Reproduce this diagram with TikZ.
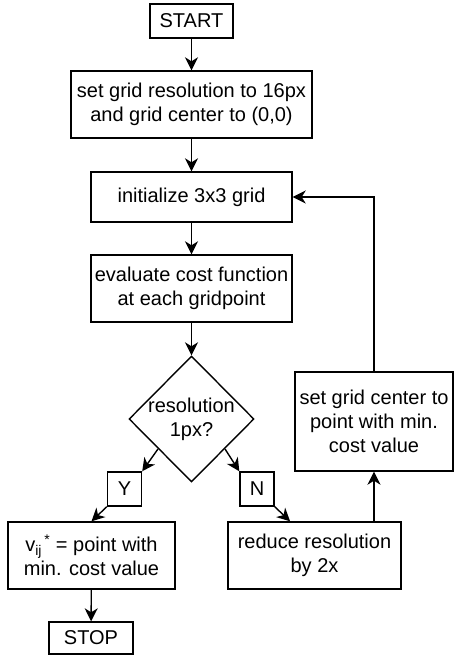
\documentclass[tikz,border=0pt]{standalone}
\usepackage{fontspec}
\setmainfont{Liberation Sans}
\usetikzlibrary{arrows.meta,shapes.geometric,calc}
\begin{document}
\begin{tikzpicture}[x=1pt,y=-1pt,
  proc/.style={draw=black, line width=1.4pt, inner sep=0pt, align=center,
    font=\fontsize{20}{24}\selectfont},
  arr/.style={-{Stealth[length=13pt,width=13pt,inset=4pt]}, line width=1.4pt}]
\useasboundingbox (0,0) rectangle (454,655);

\node[proc, minimum width=83pt, minimum height=34pt] (start) at (191.5,21) {START};
\node[proc, minimum width=241pt, minimum height=67pt] (b2) at (191.5,104.5)
  {set grid resolution to 16px\\and grid center to (0,0)};
\node[proc, minimum width=201pt, minimum height=50pt] (b3) at (191.5,197)
  {initialize 3x3 grid};
\node[proc, minimum width=201pt, minimum height=67pt] (b4) at (191.5,288.5)
  {evaluate cost function\\at each gridpoint};
\node[proc, diamond, minimum width=125pt, minimum height=126pt,
  label={[align=center, font=\fontsize{20}{24}\selectfont]center:resolution\\1px?}]
  (d) at (191.5,419) {};
\node[proc, minimum width=158pt, minimum height=99pt] (b5) at (374,421.5)
  {set grid center to\\point with min.\\cost value};
\node[proc, minimum width=34pt, minimum height=34pt] (y) at (124.5,489) {Y};
\node[proc, minimum width=34pt, minimum height=34pt] (n) at (257,489) {N};
\node[proc, minimum width=167pt, minimum height=67pt] (b6) at (91.5,555.5)
  {v\textsubscript{ij}\textsuperscript{\,*} = point with\\min. cost value};
\node[proc, minimum width=173pt, minimum height=67pt] (b7) at (314.5,555.5)
  {reduce resolution\\by 2x};
\node[proc, minimum width=84pt, minimum height=32pt] (stop) at (91,638) {STOP};

\draw[arr] (start) -- (b2);
\draw[arr] (b2) -- (b3);
\draw[arr] (b3) -- (b4);
\draw[arr] (b4) -- (d.north);
\draw[arr] ($(d.west)!0.47!(d.south)$) -- (y.north east);
\draw[arr] (y.south west) -- (b6.north);
\draw[arr] ($(d.east)!0.47!(d.south)$) -- (n.north west);
\draw[arr] (n.south east) -- ($(b7.north west)!0.36!(b7.north east)$);
\draw[arr] (b6) -- (stop);
\draw[arr] (b7.north -| b5.south) -- (b5.south);
\draw[arr] (b5.north) |- (b3.east);
\end{tikzpicture}
\end{document}
